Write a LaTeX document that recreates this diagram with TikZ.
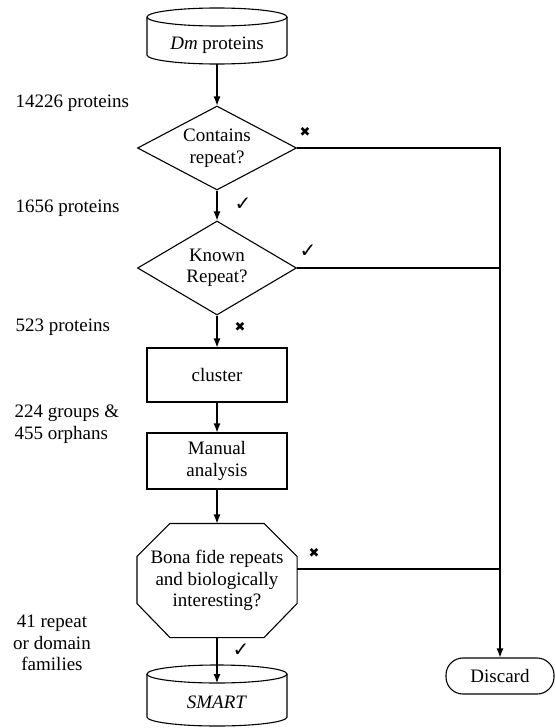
\documentclass[tikz,border=0pt]{standalone}
\usepackage{fontspec}
\setmainfont{Liberation Serif}
\newfontfamily\symfont{DejaVu Sans}
\usetikzlibrary{shapes.geometric,arrows.meta,calc}
\begin{document}
\begin{tikzpicture}[x=1pt,y=-1pt, line width=1.1pt,
  every node/.style={font=\rmfamily\fontsize{19}{21.5}\selectfont},
  box/.style={draw, minimum width=140pt, inner sep=0pt, align=center},
  dia/.style={draw, diamond, minimum width=159pt, inner sep=0pt, align=center, aspect=1.9},
  plain/.style={inner sep=0pt, align=center},
  arr/.style={-{Latex[length=9pt,width=7pt]}},
  lbl/.style={anchor=west, align=left, inner sep=0pt},
  chk/.style={inner sep=0pt, font=\symfont\fontsize{20}{20}\selectfont},
  crs/.style={inner sep=0pt, font=\symfont\fontsize{13}{13}\selectfont}]
\useasboundingbox (0,0) rectangle (556,728);

% Dm proteins cylinder
\draw (147,17) -- (147,55) arc[start angle=180, end angle=360, x radius=70pt, y radius=9pt] -- (287,17);
\draw (217,17) ellipse [x radius=70pt, y radius=9pt];
\node[plain] (dm) at (217,45) {\textit{Dm} proteins};
\coordinate (dmbot) at (217,64);

% decisions
\node[dia, minimum height=84pt] (d1) at (217,148) {Contains\\repeat?};
\node[dia, minimum height=94pt] (d2) at (217,268) {Known\\Repeat?};

% boxes
\node[box, minimum height=54pt] (clu) at (217,375) {cluster};
\node[box, minimum height=56pt] (man) at (217,461) {Manual\\analysis};

% octagon
\node[plain, minimum width=159pt, minimum height=113pt] (oct) at (217,580.5) {Bona fide repeats\\and biologically\\interesting?};
\draw ($(oct.north west)+(33,0)$) -- ($(oct.north east)+(-33,0)$) -- ($(oct.north east)+(0,33)$)
  -- ($(oct.south east)+(0,-34)$) -- ($(oct.south east)+(-33,0)$) -- ($(oct.south west)+(33,0)$)
  -- ($(oct.south west)+(0,-34)$) -- ($(oct.north west)+(0,33)$) -- cycle;
\coordinate (octr) at ($(oct.east)+(0,-11.5)$);

% SMART cylinder
\draw (147,674) -- (147,717) arc[start angle=180, end angle=360, x radius=70pt, y radius=9pt] -- (287,674);
\draw (217,674) ellipse [x radius=70pt, y radius=9pt];
\node[plain] (smart) at (217,702) {\textit{SMART}};
\coordinate (smarttop) at (217,683);

% Discard
\node[draw, rounded corners=17pt, minimum width=108pt, minimum height=36pt, inner sep=0pt] (disc) at (500,676) {Discard};

% connectors
\draw[arr] (dmbot) -- (d1.north);
\draw[arr] (d1.south) -- (d2.north);
\draw[arr] (d2.south) -- (clu.north);
\draw[arr] (clu.south) -- (man.north);
\draw[arr] (man.south) -- (oct.north);
\draw[arr] (oct.south) -- (smarttop);
\draw[arr] (d1.east) -| (disc.north);
\draw (d2.east) -- (d2.east -| disc.north);
\draw (octr) -- (octr -| disc.north);

% marks
\node[crs] at (305,132) {✖};
\node[chk] at (243,204) {✓};
\node[chk] at (308,251) {✓};
\node[crs] at (240,327) {✖};
\node[crs] at (314,553) {✖};
\node[chk] at (241,650) {✓};

% side labels
\node[lbl] (l1) at (15,103) {14226 proteins};
\node[lbl] (l2) at (15,208) {1656 proteins};
\node[lbl] (l3) at (15,327) {523 proteins};
\node[lbl] (l4) at (14,424) {224 groups \&\\455 orphans};
\node[plain] (l5) at (52,643) {41 repeat\\or domain\\families};
\end{tikzpicture}
\end{document}
